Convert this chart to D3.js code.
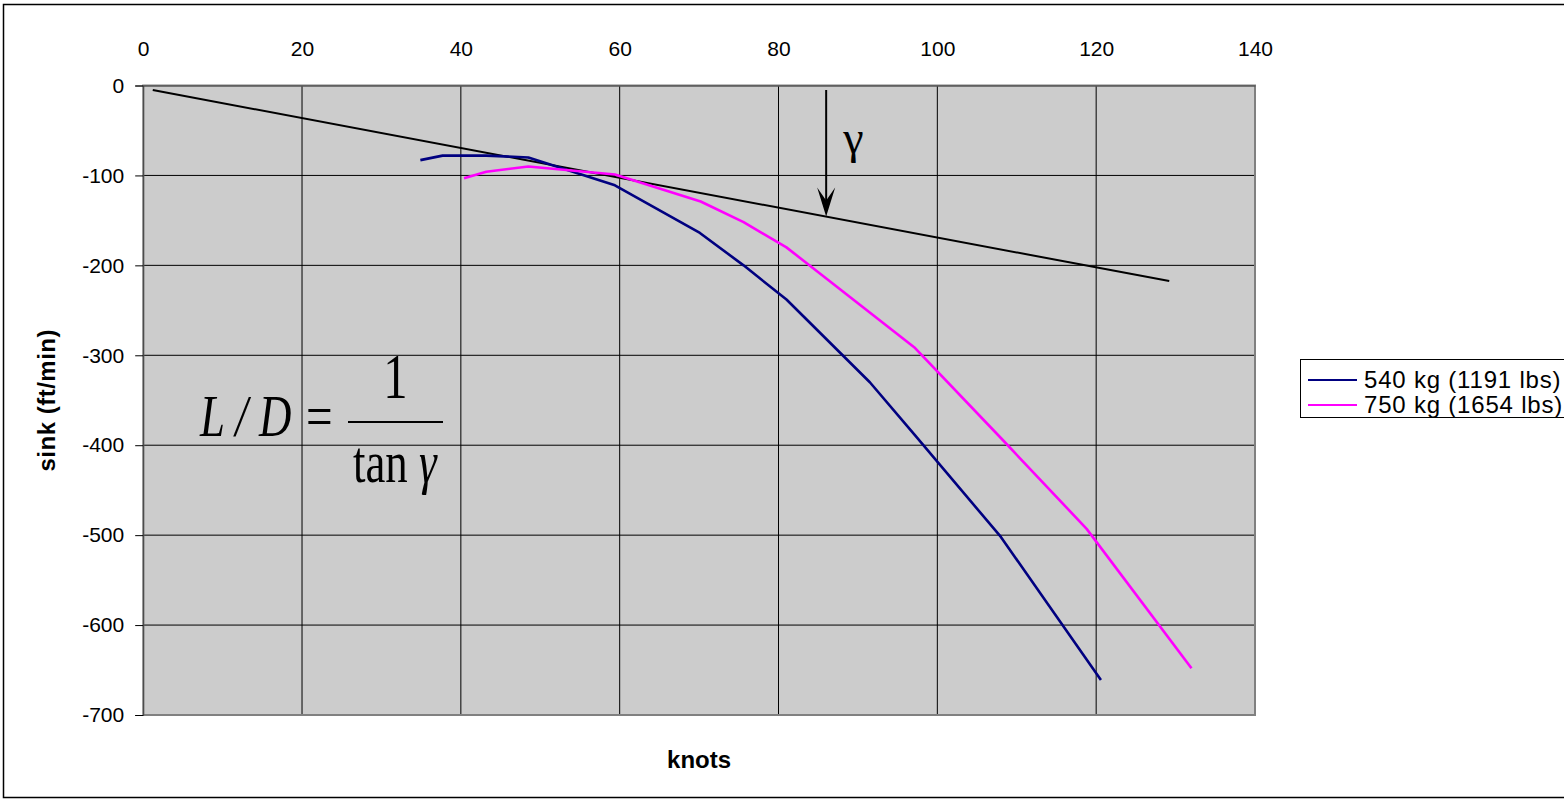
<!DOCTYPE html>
<html>
<head>
<meta charset="utf-8">
<script src="https://cdn.jsdelivr.net/npm/d3@7"></script>
<style>
  html, body { margin: 0; padding: 0; background: #ffffff; }
  svg { display: block; }
</style>
</head>
<body>
<svg id="chart" width="1564" height="801"></svg>
<script>
// Glide polar: sink rate against airspeed for two gliding weights
const xTicks = [0, 20, 40, 60, 80, 100, 120, 140];
const yTicks = [0, -100, -200, -300, -400, -500, -600, -700];

const seriesNames = ["540 kg (1191 lbs)", "750 kg (1654 lbs)"];
const seriesColors = ["#000080", "#ff00ff"];

const knots540 = [34.9, 37.7, 43.2, 48.5, 59.4, 70.1, 75.6, 81.0, 91.5, 97.2, 108.0, 120.6];
const sink540  = [-83, -78, -78, -80, -111, -164, -200, -238, -330, -389, -502, -661];

const knots750 = [40.4, 43.2, 48.5, 59.4, 70.2, 75.6, 81.0, 86.5, 97.2, 108.0, 118.8, 132.0];
const sink750  = [-103, -96, -90, -99, -129, -152, -180, -218, -292, -392, -493, -648];

// Tangent from the origin to the polar (best glide) and the angle marker
const tangentKnots = [1.2, 129.2];
const tangentSink  = [-5, -217.5];
const arrowKnots = 86;
const arrowTopSink = -5;

const svg = d3.select("#chart");

const x = d3.scaleLinear().domain([0, 140]).range([143.2, 1255]);
const y = d3.scaleLinear().domain([0, -700]).range([85.5, 715]);

const sans = "'Liberation Sans', Arial, sans-serif";
const serif = "'Liberation Serif', 'Times New Roman', serif";

// Chart frame
svg.append("rect")
  .attr("x", 3.5).attr("y", 4.5)
  .attr("width", 1620).attr("height", 793)
  .attr("fill", "#ffffff").attr("stroke", "#000").attr("stroke-width", 1.5);

// Plot area
svg.append("rect")
  .attr("x", x(0)).attr("y", y(0))
  .attr("width", x(140) - x(0)).attr("height", y(-700) - y(0))
  .attr("fill", "#cccccc");

// Gridlines
const grid = svg.append("g");
grid.selectAll("line.v").data(xTicks.slice(1, -1)).enter().append("line")
  .attr("x1", d => x(d)).attr("x2", d => x(d))
  .attr("y1", y(0)).attr("y2", y(-700))
  .attr("stroke", "#000").attr("stroke-width", 1);
grid.selectAll("line.h").data(yTicks.slice(1, -1)).enter().append("line")
  .attr("x1", x(0)).attr("x2", x(140))
  .attr("y1", d => y(d)).attr("y2", d => y(d))
  .attr("stroke", "#000").attr("stroke-width", 1);

// Plot border
svg.append("rect")
  .attr("x", x(0)).attr("y", y(0))
  .attr("width", x(140) - x(0)).attr("height", y(-700) - y(0))
  .attr("fill", "none").attr("stroke", "#808080").attr("stroke-width", 2);

// Axes (plain hyphen for negative labels)
const fmt = d => String(d);
const xAxis = d3.axisTop(x).tickValues(xTicks).tickFormat(fmt).tickSize(0).tickPadding(30);
const gx = svg.append("g").attr("transform", `translate(0,${y(0)})`).call(xAxis);
gx.select(".domain").attr("stroke", "#404040");
gx.selectAll("text").attr("font-family", sans).attr("font-size", 21).attr("fill", "#000");

const yAxis = d3.axisLeft(y).tickValues(yTicks).tickFormat(fmt).tickSize(8).tickPadding(11);
const gy = svg.append("g").attr("transform", `translate(${x(0)},0)`).call(yAxis);
gy.select(".domain").attr("stroke", "#404040");
gy.selectAll(".tick line").attr("stroke", "#000");
gy.selectAll("text").attr("font-family", sans).attr("font-size", 21).attr("fill", "#000");

// Axis titles
svg.append("text")
  .attr("x", (x(0) + x(140)) / 2).attr("y", 768)
  .attr("text-anchor", "middle")
  .attr("font-family", sans).attr("font-size", 24).attr("font-weight", "bold")
  .text("knots");

svg.append("text")
  .attr("transform", `translate(55,${(y(0) + y(-700)) / 2}) rotate(-90)`)
  .attr("text-anchor", "middle")
  .attr("font-family", sans).attr("font-size", 24).attr("font-weight", "bold")
  .attr("letter-spacing", 0.5)
  .text("sink (ft/min)");

// Tangent line
const line = d3.line().x(d => x(d[0])).y(d => y(d[1]));
svg.append("path")
  .datum(d3.zip(tangentKnots, tangentSink))
  .attr("d", line)
  .attr("fill", "none").attr("stroke", "#000").attr("stroke-width", 2);

// Polar curves
const series = [d3.zip(knots540, sink540), d3.zip(knots750, sink750)];
svg.selectAll("path.polar").data(series).enter().append("path")
  .attr("class", "polar")
  .attr("d", line)
  .attr("fill", "none")
  .attr("stroke", (d, i) => seriesColors[i])
  .attr("stroke-width", 2.6)
  .attr("stroke-linejoin", "round");

// Angle marker arrow down to the tangent
const tSlope = (tangentSink[1] - tangentSink[0]) / (tangentKnots[1] - tangentKnots[0]);
const arrowTipSink = tangentSink[0] + tSlope * (arrowKnots - tangentKnots[0]);
const ax = x(arrowKnots), ayTop = y(arrowTopSink), ayTip = y(arrowTipSink);
svg.append("line")
  .attr("x1", ax).attr("x2", ax).attr("y1", ayTop).attr("y2", ayTip - 10)
  .attr("stroke", "#000").attr("stroke-width", 2);
svg.append("path")
  .attr("d", `M${ax},${ayTip} L${ax - 9},${ayTip - 29} L${ax},${ayTip - 16} L${ax + 9},${ayTip - 29} Z`)
  .attr("fill", "#000");

svg.append("text")
  .attr("x", ax + 17).attr("y", 153)
  .attr("font-family", serif).attr("font-size", 46)
  .text("γ");

// Glide ratio formula
const f = svg.append("g").attr("font-family", serif).attr("fill", "#000");
f.append("text")
  .attr("transform", "translate(200,436) scale(0.76,1)")
  .attr("font-size", 59).attr("font-style", "italic")
  .text("L / D");
f.append("text")
  .attr("transform", "translate(306,436) scale(0.8,1)")
  .attr("font-size", 59)
  .text("=");
f.append("line")
  .attr("x1", 348).attr("x2", 443).attr("y1", 422).attr("y2", 422)
  .attr("stroke", "#000").attr("stroke-width", 2);
f.append("text")
  .attr("transform", "translate(395.5,398) scale(0.76,1)")
  .attr("text-anchor", "middle")
  .attr("font-size", 64)
  .text("1");
const den = f.append("text")
  .attr("transform", "translate(353,482) scale(0.76,1)")
  .attr("font-size", 59);
den.append("tspan").text("tan ");
den.append("tspan").attr("font-style", "italic").text("γ");

// Legend
const lg = svg.append("g").attr("transform", "translate(1300,359)");
lg.append("rect")
  .attr("x", 0.5).attr("y", 0.5).attr("width", 300).attr("height", 58)
  .attr("fill", "#ffffff").attr("stroke", "#000").attr("stroke-width", 1);
seriesNames.forEach((name, i) => {
  const cy = 21 + i * 25;
  lg.append("line")
    .attr("x1", 8).attr("x2", 57).attr("y1", cy).attr("y2", cy)
    .attr("stroke", seriesColors[i]).attr("stroke-width", 2);
  lg.append("text")
    .attr("x", 64).attr("y", cy).attr("dy", "0.35em")
    .attr("font-family", sans).attr("font-size", 24)
    .attr("letter-spacing", 0.8)
    .text(name);
});
</script>
</body>
</html>
